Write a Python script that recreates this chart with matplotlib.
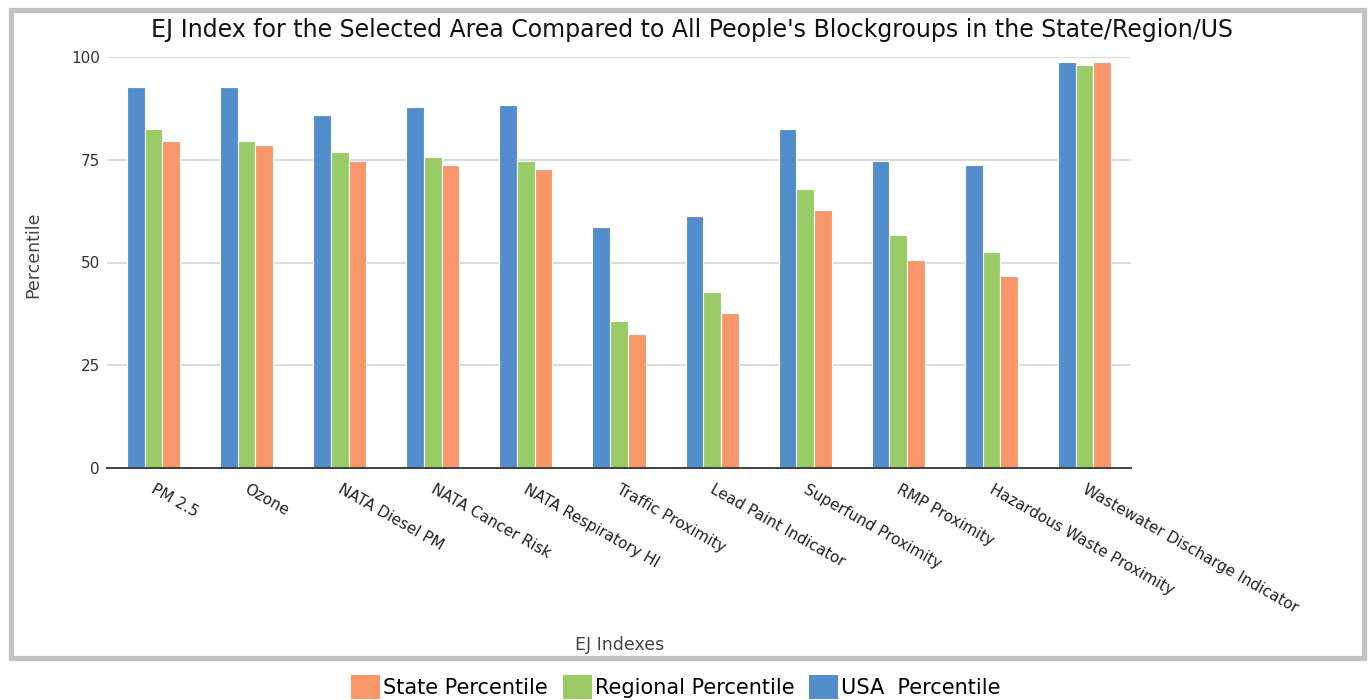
import matplotlib
matplotlib.use("Agg")
import matplotlib.pyplot as plt
from matplotlib.patches import Rectangle, Patch
import numpy as np

categories = ["PM 2.5", "Ozone", "NATA Diesel PM", "NATA Cancer Risk",
              "NATA Respiratory HI", "Traffic Proximity", "Lead Paint Indicator",
              "Superfund Proximity", "RMP Proximity", "Hazardous Waste Proximity",
              "Wastewater Discharge Indicator"]
usa_pct = [92.7, 92.7, 85.8, 87.8, 88.4, 58.7, 61.4, 82.6, 74.8, 73.7, 98.7]
regional_pct = [82.6, 79.6, 76.8, 75.6, 74.8, 35.7, 42.8, 67.8, 56.8, 52.6, 98.0]
state_pct = [79.6, 78.7, 74.8, 73.7, 72.8, 32.6, 37.6, 62.8, 50.5, 46.6, 98.7]
yticks = [0, 25, 50, 75, 100]

BLUE = "#538ECC"
GREEN = "#99CC66"
ORANGE = "#F7976A"

W, H = 1369, 700
fig = plt.figure(figsize=(W / 100, H / 100), dpi=100)
fig.patch.set_facecolor("white")
plt.rcParams["font.family"] = ["DejaVu Sans"]

# outer frame
fig.patches.append(Rectangle((11 / W, 1 - 658 / H), (1364 - 11) / W, (658 - 10) / H,
                             transform=fig.transFigure, fill=False,
                             edgecolor="#c3c3c3", linewidth=3.8, zorder=0))

ax = fig.add_axes([107 / W, 1 - 468 / H, (1131 - 107) / W, (468 - 57) / H])
x = np.arange(len(categories))
bw = 0.19
ax.bar(x - bw, usa_pct, bw, color=BLUE, edgecolor="white", linewidth=0.8, zorder=3)
ax.bar(x, regional_pct, bw, color=GREEN, edgecolor="white", linewidth=0.8, zorder=3)
ax.bar(x + bw, state_pct, bw, color=ORANGE, edgecolor="white", linewidth=0.8, zorder=3)

ax.set_xlim(-0.5, len(categories) - 0.5)
ax.set_ylim(0, 100)
ax.set_yticks(yticks)
ax.set_yticklabels([str(v) for v in yticks], fontsize=11, color="#333333")
ax.yaxis.grid(True, color="#d6d6d6", linewidth=1.2, zorder=0)
ax.set_axisbelow(True)
for s in ["top", "right", "left"]:
    ax.spines[s].set_visible(False)
ax.spines["bottom"].set_color("#333333")
ax.spines["bottom"].set_linewidth(1.3)
ax.spines["bottom"].set_zorder(5)
ax.tick_params(axis="y", length=0, pad=5)
ax.tick_params(axis="x", length=0, pad=10)
ax.set_xticks(x + 0.03)
ax.set_xticklabels(categories, rotation=-29.5, ha="left", va="top",
                   rotation_mode="anchor", fontsize=11, color="#222222")

fig.text(33 / W, 1 - 255 / H, "Percentile", rotation=90, ha="center", va="center",
         fontsize=12.5, color="#444444")
fig.text(620 / W, 1 - 645 / H, "EJ Indexes", ha="center", va="center",
         fontsize=12.5, color="#444444")
fig.text(692 / W, 1 - 30 / H,
         "EJ Index for the Selected Area Compared to All People's Blockgroups in the State/Region/US",
         ha="center", va="center", fontsize=17, color="#111111")

handles = [Patch(facecolor=ORANGE, edgecolor="none"),
           Patch(facecolor=GREEN, edgecolor="none"),
           Patch(facecolor=BLUE, edgecolor="none")]
fig.legend(handles, ["State Percentile", "Regional Percentile", "USA  Percentile"],
           loc="center", bbox_to_anchor=(676 / W, 1 - 687 / H), ncol=3,
           frameon=False, fontsize=15, handlelength=1.4, handleheight=1.45,
           handletextpad=0.15, columnspacing=0.7, borderpad=0, borderaxespad=0)

fig.savefig("out.png", dpi=100)
